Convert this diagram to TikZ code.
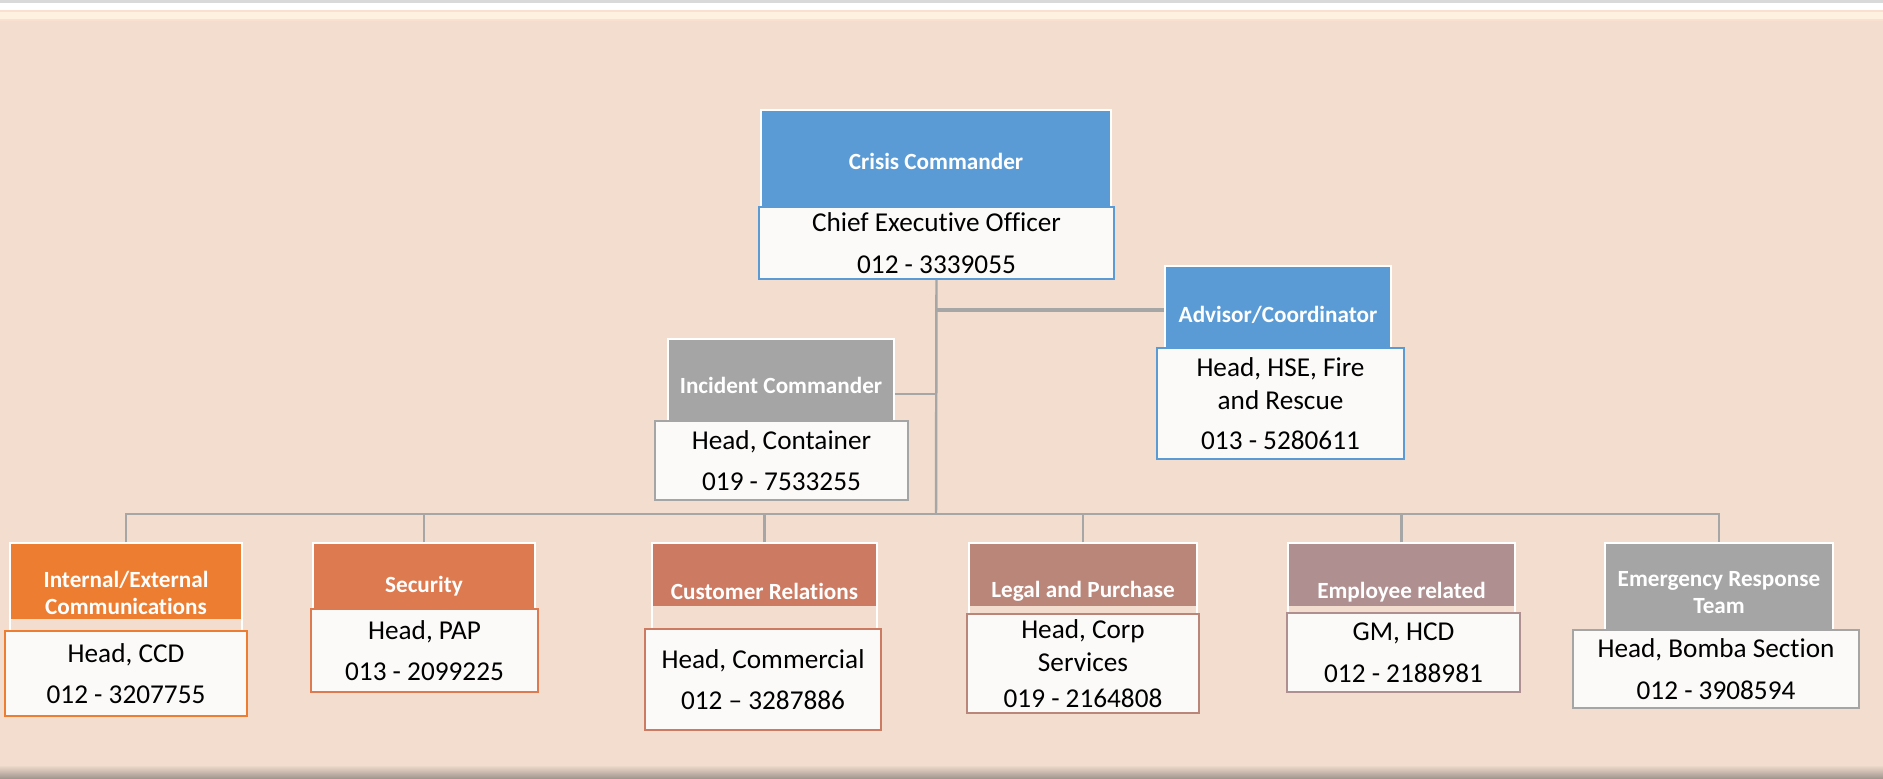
\documentclass[tikz,border=0pt]{standalone}
\usepackage{fontspec}
\setmainfont{Carlito}[Ligatures={TeX,NoCommon}]
\usetikzlibrary{calc}
\definecolor{cblue}{HTML}{5B9BD5}
\definecolor{corange}{HTML}{ED7D31}
\definecolor{csec}{HTML}{DD7A4F}
\definecolor{ccust}{HTML}{CC7A62}
\definecolor{clegal}{HTML}{BB867A}
\definecolor{cempl}{HTML}{AF8F90}
\definecolor{cgrey}{HTML}{A5A5A5}
\definecolor{cline}{HTML}{A6A6A6}
\definecolor{cpeach}{HTML}{F2DDCE}
\definecolor{ccream}{HTML}{FFF1DF}
\definecolor{cpink}{HTML}{F9E0D0}
\definecolor{ccard}{HTML}{FCFAF9}
\definecolor{cfoot}{HTML}{A39890}
\tikzset{
  head/.style={draw=white, line width=0.8pt, fill=#1, text=white, align=center, inner sep=0pt,
    font=\fontsize{13.2}{15.3}\selectfont\bfseries},
  head/.default=cgrey,
  % header whose colour stops above the card
  shorthead/.style 2 args={draw=white, line width=0.8pt, text=white, align=center, inner sep=0pt,
    font=\fontsize{13.2}{15.3}\selectfont\bfseries,
    path picture={\fill[#1] (path picture bounding box.north west) rectangle ([yshift=-#2]path picture bounding box.north east);}},
  card/.style={draw=#1, line width=1.1pt, fill=ccard, align=center, inner sep=0pt,
    font=\fontsize{15.5}{18.7}\selectfont},
  link/.style={draw=cline, line width=1.4pt},
}

\begin{document}
\begin{tikzpicture}[x=0.02cm, y=-0.02cm]
  \useasboundingbox (0,0) rectangle (1883,778);
  % page background
  \fill[cpeach] (0,0) rectangle (1883,778);
  \fill[white] (0,0) rectangle (1883,10);
  \fill[black!15] (0,0) rectangle (1883,2.5);
  \fill[cpink] (0,10) rectangle (1883,20.5);
  \fill[ccream] (0,11.5) rectangle (1883,18.5);
  \shade[top color=cpeach, bottom color=cfoot] (0,765) rectangle (1883,778);

  % connectors
  \coordinate (bus) at (936,514);
  \node[head=cblue, minimum width=7cm, minimum height=2.04cm] (crisis) at (936,161) {Crisis Commander};
  \node[head=cblue, minimum width=4.52cm, minimum height=1.96cm] (adv) at (1278,315) {Advisor/Coordinator};
  \node[head=cgrey, minimum width=4.52cm, minimum height=1.84cm] (inc) at (781,385) {Incident Commander};
  \node[card=cblue, minimum width=7.1cm, minimum height=1.44cm] (ceo) at (936.5,243) {Chief Executive Officer\\[5pt]012 - 3339055};

  \coordinate (advlink) at ($(adv.west)+(0,-5)$);
  \coordinate (inclink) at ($(inc.east)+(0,9)$);
  \draw[link] (ceo.south) -- (bus);
  \draw[link, line width=2pt] (advlink) -- (advlink -| ceo.south);
  \draw[link] (inclink) -- (inclink -| ceo.south);

  % bottom row of headers
  \node[shorthead={corange}{1.52cm}, minimum width=4.64cm, minimum height=1.98cm] (comm) at (126,592.5) {Internal/External\\Communications};
  \node[head=csec, minimum width=4.44cm, minimum height=1.72cm] (sec) at (424,586) {Security};
  \node[shorthead={ccust}{1.26cm}, minimum width=4.5cm, minimum height=1.94cm] (cust) at (764.5,591.5) {Customer Relations};
  \node[shorthead={clegal}{1.26cm}, minimum width=4.56cm, minimum height=1.92cm] (legal) at (1083,591) {Legal and Purchase};
  \node[shorthead={cempl}{1.26cm}, minimum width=4.54cm, minimum height=1.96cm] (empl) at (1401.5,592) {Employee related};
  \node[head=cgrey, minimum width=4.56cm, minimum height=1.98cm] (ert) at (1719,592.5) {Emergency Response\\Team};

  \draw[link] (comm.north) |- (bus) -| (ert.north);
  \foreach \h in {sec, cust, legal, empl} \draw[link] (\h.north) -- (\h.north |- bus);

  % cards
  \node[card=cblue, minimum width=4.94cm, minimum height=2.22cm] (advcard) at (1280.5,403.5) {Head, HSE, Fire\\and Rescue\\[4pt]013 - 5280611};
  \node[card=cgrey, minimum width=5.06cm, minimum height=1.58cm] (inccard) at (781.5,460.5) {Head, Container\\[5pt]019 - 7533255};
  \node[card=corange, minimum width=4.84cm, minimum height=1.7cm] (commcard) at (126,673.5) {Head, CCD\\[5pt]012 - 3207755};
  \node[card=csec, minimum width=4.54cm, minimum height=1.66cm] (seccard) at (424.5,650.5) {Head, PAP\\[5pt]013 - 2099225};
  \node[card=ccust, minimum width=4.72cm, minimum height=2.02cm] (custcard) at (763,679.5) {Head, Commercial\\[5pt]012 – 3287886};
  \node[card=clegal, minimum width=4.64cm, minimum height=1.98cm] (legalcard) at (1083,663.5) {Head, Corp\\Services\\[2pt]019 - 2164808};
  \node[card=cempl, minimum width=4.66cm, minimum height=1.58cm] (emplcard) at (1403.5,652.5) {GM, HCD\\[5pt]012 - 2188981};
  \node[card=cgrey, minimum width=5.72cm, minimum height=1.56cm] (ertcard) at (1716,669) {Head, Bomba Section\\[5pt]012 - 3908594};
\end{tikzpicture}
\end{document}
